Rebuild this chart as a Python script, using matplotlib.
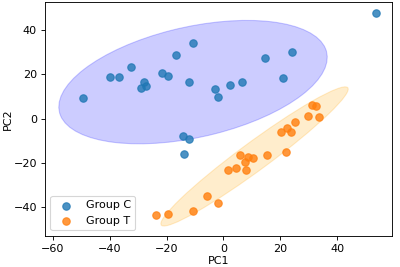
import numpy as np
import matplotlib
matplotlib.use("Agg")
import matplotlib.pyplot as plt
from matplotlib.patches import Ellipse

# PCA scores
group_c_pc1 = [-49.3, -39.8, -36.9, -32.5, -27.8, -27.1, -29.0, -21.7, -19.6, -16.6,
               -10.6, -12.2, -3.1, -1.8, 2.5, 6.5, 14.5, 24.0, 21.1, 53.8,
               -14.1, -12.2, -13.9]
group_c_pc2 = [9.2, 18.9, 18.9, 23.3, 16.4, 14.7, 13.7, 20.5, 19.2, 28.6,
               34.4, 16.7, 13.4, 9.6, 15.2, 16.6, 27.6, 30.3, 18.3, 47.9,
               -7.8, -9.1, -16.1]

group_t_pc1 = [31.3, 32.5, 29.8, 33.6, 25.2, 22.4, 20.2, 23.9, 5.9, 8.5, 10.6,
               7.6, 15.3, 22.1, 1.8, 4.5, 8.0, -5.8, -2.0, -10.8, -19.6, -23.7]
group_t_pc2 = [6.4, 5.8, 1.3, 0.6, -1.6, -4.3, -6.0, -5.9, -16.5, -17.3, -18.0,
               -19.4, -16.4, -15.1, -23.1, -22.3, -23.1, -34.8, -38.0, -41.6, -42.9, -43.4]

groups = ["Group C", "Group T"]
point_colors = ["tab:blue", "tab:orange"]
ellipse_colors = ["blue", "orange"]


def cov_ellipse(x, y, n_std, color):
    x = np.asarray(x)
    y = np.asarray(y)
    cov = np.cov(x, y)
    vals, vecs = np.linalg.eigh(cov)
    order = vals.argsort()[::-1]
    vals, vecs = vals[order], vecs[:, order]
    angle = np.degrees(np.arctan2(vecs[1, 0], vecs[0, 0]))
    w, h = 2 * n_std * np.sqrt(vals)
    return Ellipse((x.mean(), y.mean()), w, h, angle=angle, color=color, alpha=0.2)


fig, ax = plt.subplots(figsize=(5, 3.3375), dpi=80)

data = [(group_c_pc1, group_c_pc2), (group_t_pc1, group_t_pc2)]
for (px, py), name, pc, ec in zip(data, groups, point_colors, ellipse_colors):
    ax.scatter(px, py, s=45, color=pc, alpha=0.8, label=name, zorder=3)
    ax.add_patch(cov_ellipse(px, py, 2, ec))

ax.autoscale_view()
ax.set_xticks([-60, -40, -20, 0, 20, 40])
ax.set_yticks([-40, -20, 0, 20, 40])
ax.set_xlabel("PC1", labelpad=2)
ax.set_ylabel("PC2", labelpad=1)
ax.legend(loc="lower left")

fig.subplots_adjust(left=0.112, right=0.98, bottom=0.116, top=0.992)
fig.savefig("out.png", dpi=80)
